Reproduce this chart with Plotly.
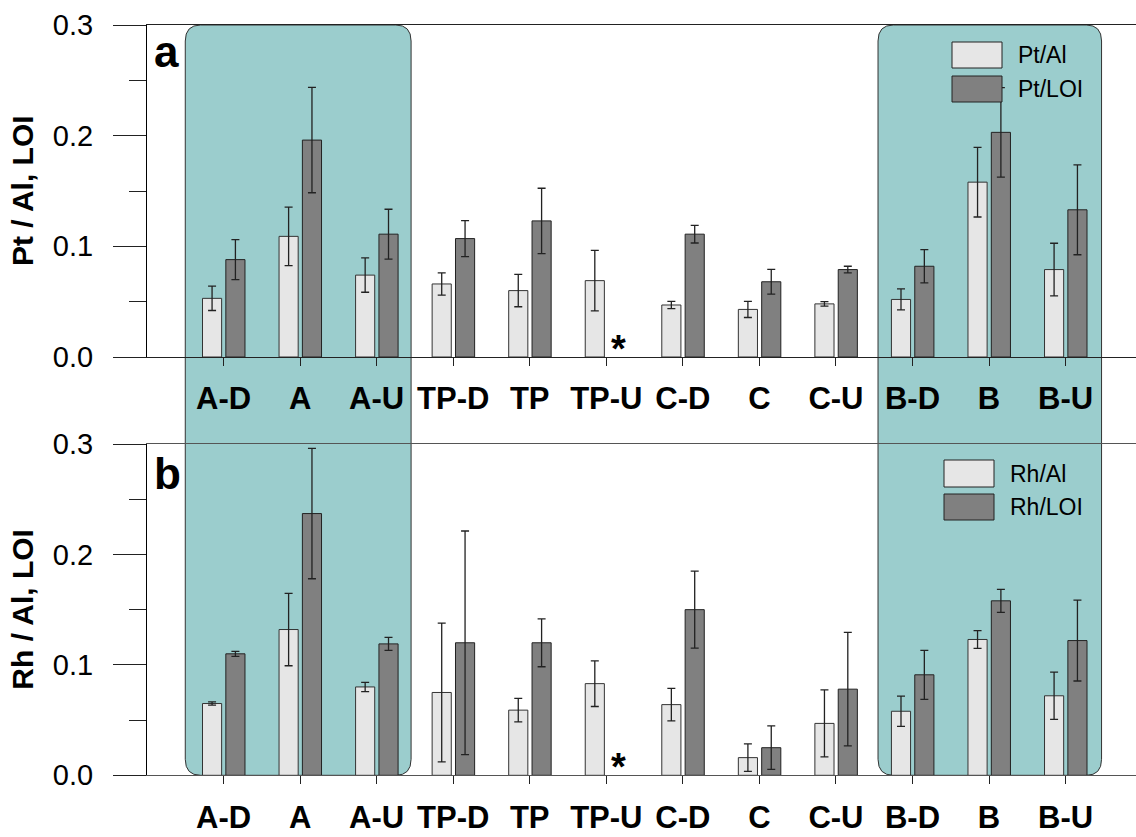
import plotly.graph_objects as go
from plotly.subplots import make_subplots

# ---------------- data ----------------
categories = ["A-D", "A", "A-U", "TP-D", "TP", "TP-U", "C-D", "C", "C-U", "B-D", "B", "B-U"]

pt_al = [0.053, 0.109, 0.074, 0.066, 0.060, 0.069, 0.047, 0.043, 0.048, 0.052, 0.158, 0.079]
pt_al_err = [0.011, 0.0265, 0.0155, 0.010, 0.0146, 0.0273, 0.0033, 0.0073, 0.002, 0.0095, 0.0315, 0.0238]
pt_loi = [0.088, 0.196, 0.111, 0.107, 0.123, None, 0.111, 0.068, 0.079, 0.082, 0.203, 0.133]
pt_loi_err = [0.018, 0.0476, 0.0225, 0.0163, 0.0295, None, 0.008, 0.0112, 0.003, 0.015, 0.0405, 0.0406]

rh_al = [0.065, 0.132, 0.080, 0.075, 0.059, 0.083, 0.064, 0.016, 0.047, 0.058, 0.123, 0.072]
rh_al_err = [0.0015, 0.0328, 0.0042, 0.0628, 0.0106, 0.0207, 0.0148, 0.0124, 0.0303, 0.0137, 0.008, 0.0214]
rh_loi = [0.110, 0.237, 0.119, 0.120, 0.120, None, 0.150, 0.025, 0.078, 0.091, 0.158, 0.122]
rh_loi_err = [0.0023, 0.059, 0.0059, 0.1012, 0.0217, None, 0.0349, 0.0197, 0.0514, 0.0222, 0.0104, 0.0366]

missing_index = 5  # TP-U: no LOI value (marked with *)
y_ticks = [0.0, 0.1, 0.2, 0.3]

# ---------------- style ----------------
FONT = "Liberation Sans, Arial, Helvetica, sans-serif"
LIGHT = "#E6E6E6"
DARK = "#808080"
TEAL = "#9BCDCD"
EDGE = "#222222"
W, H = 1136, 837

x_pos = list(range(len(categories)))
BAR_W = 0.25
OFF_L, OFF_D = -0.275, 0.03

fig = make_subplots(rows=2, cols=1)

def add_pair(row, v1, e1, v2, e2, n1, n2):
    fig.add_trace(go.Bar(
        x=x_pos, y=v1, name=n1, width=BAR_W, offset=OFF_L,
        marker=dict(color=LIGHT, line=dict(color="#333333", width=1)),
        error_y=dict(type="data", array=e1, color=EDGE, thickness=1.3, width=4),
        showlegend=False), row=row, col=1)
    fig.add_trace(go.Bar(
        x=x_pos, y=v2, name=n2, width=BAR_W, offset=OFF_D,
        marker=dict(color=DARK, line=dict(color=EDGE, width=1)),
        error_y=dict(type="data", array=e2, color=EDGE, thickness=1.3, width=4),
        showlegend=False), row=row, col=1)

add_pair(1, pt_al, pt_al_err, pt_loi, pt_loi_err, "Pt/Al", "Pt/LOI")
add_pair(2, rh_al, rh_al_err, rh_loi, rh_loi_err, "Rh/Al", "Rh/LOI")

def py(p):  # pixel row -> paper y
    return 1 - p / H

def px(p):
    return p / W

top_dom = [py(357), py(25)]
bot_dom = [py(775.3), py(444)]
x_dom = [px(147), 1.0]

xaxis_common = dict(
    range=[-1, 11.92], domain=x_dom, tickmode="array", tickvals=x_pos, ticktext=categories,
    showline=True, linecolor="#222222", linewidth=1, mirror=True,
    ticks="outside", ticklen=8, tickcolor="#222222", tickwidth=1,
    tickfont=dict(family=FONT, size=31, color="black", weight="bold"),
    ticklabelstandoff=6, showgrid=False, zeroline=False, automargin=False,
)
yaxis_common = dict(
    range=[0, 0.3], tickmode="array", tickvals=y_ticks, tickformat=".1f",
    showline=True, linecolor="black", linewidth=1,
    ticks="outside", ticklen=33, tickcolor="#222222", tickwidth=1,
    minor=dict(dtick=0.05, ticks="outside", ticklen=17, tickcolor="#222222", tickwidth=1),
    tickfont=dict(family=FONT, size=29, color="black"),
    ticklabelstandoff=14, showgrid=False, zeroline=False, automargin=False,
)

fig.update_layout(
    width=W, height=H, margin=dict(l=0, r=0, t=0, b=0, autoexpand=False),
    paper_bgcolor="white", plot_bgcolor="rgba(0,0,0,0)",
    barmode="overlay", showlegend=False,
    xaxis=dict(xaxis_common), xaxis2=dict(xaxis_common, linecolor="#555555"),
    yaxis=dict(yaxis_common, domain=top_dom),
    yaxis2=dict(yaxis_common, domain=bot_dom),
    font=dict(family=FONT, color="black"),
)

# ---------------- highlight regions (rounded rectangles spanning both panels) ----------------
def rrect(x0, x1, y0, y1, rx, ry):
    return (f"M {x0+rx},{y1} L {x1-rx},{y1} Q {x1},{y1} {x1},{y1-ry} "
            f"L {x1},{y0+ry} Q {x1},{y0} {x1-rx},{y0} L {x0+rx},{y0} "
            f"Q {x0},{y0} {x0},{y0+ry} L {x0},{y1-ry} Q {x0},{y1} {x0+rx},{y1} Z")

rx, ry = 0.2, 16 / H
for (a, b) in [(-0.5, 2.45), (8.55, 11.47)]:
    fig.add_shape(type="path", path=rrect(a, b, bot_dom[0], top_dom[1], rx, ry),
                  xref="x", yref="paper", fillcolor=TEAL,
                  line=dict(color="#333333", width=1), layer="below")

# ---------------- legends (drawn) ----------------
def legend(x0, x1, yl, yd, tx, labels):
    for (ya, yb), col in zip([yl, yd], [LIGHT, DARK]):
        fig.add_shape(type="rect", xref="paper", yref="paper",
                      x0=px(x0), x1=px(x1), y0=py(yb), y1=py(ya),
                      fillcolor=col, line=dict(color=EDGE, width=1), layer="above")
    for (ya, yb), lab in zip([yl, yd], labels):
        fig.add_annotation(x=px(tx), y=py((ya + yb) / 2), xref="paper", yref="paper",
                           text=lab, showarrow=False, xanchor="left", yanchor="middle",
                           font=dict(family=FONT, size=23, color="black"))

legend(952, 1002, (42, 68), (76, 102), 1016, ["Pt/Al", "Pt/LOI"])
legend(944, 994, (460, 487), (494, 520), 1008, ["Rh/Al", "Rh/LOI"])

# ---------------- panel letters, axis titles, asterisks ----------------
fig.add_annotation(x=px(152), y=py(52), xref="paper", yref="paper", text="<b>a</b>",
                   showarrow=False, xanchor="left", yanchor="middle",
                   font=dict(family=FONT, size=44, color="black"))
fig.add_annotation(x=px(152), y=py(473), xref="paper", yref="paper", text="<b>b</b>",
                   showarrow=False, xanchor="left", yanchor="middle",
                   font=dict(family=FONT, size=44, color="black"))
fig.add_annotation(x=px(23), y=(top_dom[0] + top_dom[1]) / 2, xref="paper", yref="paper",
                   text="<b>Pt / Al, LOI</b>", textangle=-90, showarrow=False,
                   xanchor="center", yanchor="middle", font=dict(family=FONT, size=30, color="black"))
fig.add_annotation(x=px(23), y=(bot_dom[0] + bot_dom[1]) / 2, xref="paper", yref="paper",
                   text="<b>Rh / Al, LOI</b>", textangle=-90, showarrow=False,
                   xanchor="center", yanchor="middle", font=dict(family=FONT, size=30, color="black"))

for xr, yr in [("x", "y"), ("x2", "y2")]:
    fig.add_annotation(x=missing_index + OFF_D + BAR_W / 2, y=0, xref=xr, yref=yr,
                       text="<b>*</b>", showarrow=False, xanchor="center", yanchor="bottom",
                       yshift=-15, font=dict(family=FONT, size=38, color="black"))

fig.write_html("out.html")
